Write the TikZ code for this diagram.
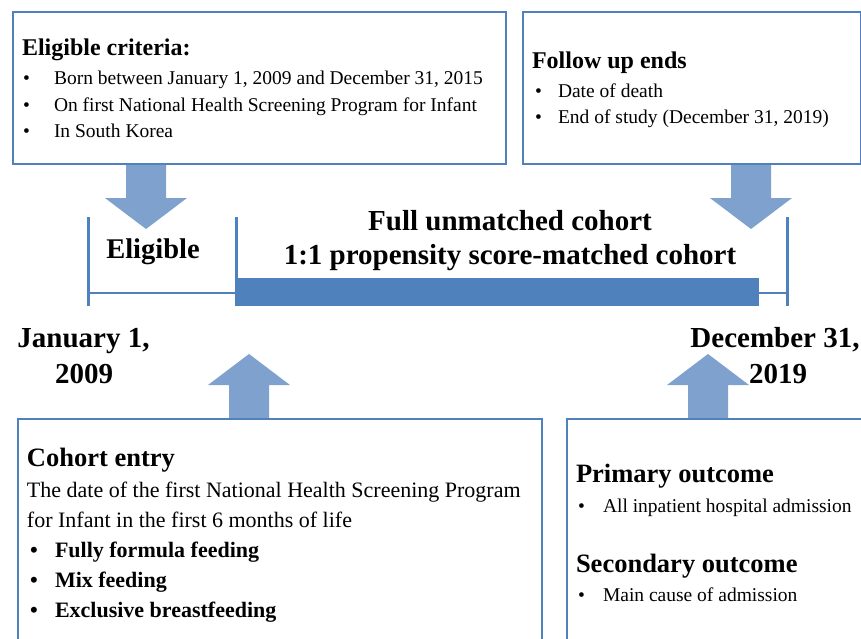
\documentclass[tikz,border=0pt]{standalone}
\usepackage{fontspec}
\setmainfont{Liberation Serif}
\definecolor{boxblue}{RGB}{79,129,189}
\definecolor{arrowblue}{RGB}{126,161,206}
\pgfdeclarelayer{bg}
\pgfsetlayers{bg,main}
\newcommand\fsz[1]{\fontsize{#1}{#1}\selectfont}
\tikzset{
  infobox/.style={draw=boxblue, line width=2pt, anchor=north west, inner sep=0pt, fill=none},
  txt/.style={anchor=base west, inner sep=0pt, outer sep=0pt},
  ctxt/.style={anchor=base, inner sep=0pt, outer sep=0pt},
  head/.style={txt, font=\fsz{24}\bfseries},
  bighead/.style={txt, font=\fsz{26.5}\bfseries},
  item/.style={txt, font=\fsz{19.5}},
  bigitem/.style={txt, font=\fsz{22}},
  bolditem/.style={txt, font=\fsz{22}\bfseries},
  bigbold/.style={ctxt, font=\fsz{29}\bfseries},
  tickline/.style={draw=boxblue, line width=3pt},
  thinline/.style={draw=boxblue, line width=2.5pt},
  downarr/.pic={\fill[arrowblue] (-20,0) -- (20,0) -- (20,33) -- (41,33) -- (0,64) -- (-41,33) -- (-20,33) -- cycle;},
  uparr/.pic={\fill[arrowblue] (-20,0) -- (20,0) -- (20,-33) -- (41,-33) -- (0,-64) -- (-41,-33) -- (-20,-33) -- cycle;}
}
\begin{document}
\begin{tikzpicture}[x=1pt,y=-1pt]
\useasboundingbox (0,0) rectangle (861,638);
\clip (0,0) rectangle (861,638);
% boxes
\node[infobox, minimum width=493pt, minimum height=152pt] (eligbox) at (12,11) {};
\node[infobox, minimum width=338pt, minimum height=152pt] (followbox) at (522,11) {};
\node[infobox, minimum width=524pt, minimum height=260pt] (entrybox) at (17,418) {};
\node[infobox, minimum width=330pt, minimum height=260pt] (outbox) at (566,418) {};
% block arrows behind the boxes
\begin{pgfonlayer}{bg}
\pic at ([xshift=134pt]eligbox.south west) {downarr};
\pic at ([xshift=229pt]followbox.south west) {downarr};
\pic at ([xshift=232pt]entrybox.north west) {uparr};
\pic at ([xshift=142pt]outbox.north west) {uparr};
\end{pgfonlayer}
% eligible criteria text
\node[head] (eh) at (22,55) {Eligible criteria:};
\node[item] (eb1) at (23,84) {•};
\node[item] (et1) at (54,84) {Born between January 1, 2009 and December 31, 2015};
\node[item] (eb2) at (23,111) {•};
\node[item] (et2) at (54,111) {On first National Health Screening Program for Infant};
\node[item] (eb3) at (23,137) {•};
\node[item] (et3) at (54,137) {In South Korea};
% follow up text
\node[head] (fh) at (532,68) {Follow up ends};
\node[item] (fb1) at (535,97) {•};
\node[item] (ft1) at (558,97) {Date of death};
\node[item] (fb2) at (535,123) {•};
\node[item] (ft2) at (558,123) {End of study (December 31, 2019)};
% timeline
\coordinate (tA) at (88,217);
\coordinate (tB) at (236,217);
\coordinate (tC) at (787,217);
\coordinate (tAb) at (88,306);
\coordinate (tBb) at (236,306);
\coordinate (tCb) at (787,306);
\fill[boxblue] (236,278) rectangle (759,306);
\draw[thinline] (88,293) -- (236,293);
\draw[thinline] (759,293) -- (787,293);
\draw[tickline] (tA) -- (tAb);
\draw[tickline] (tB) -- (tBb);
\draw[tickline] (tC) -- (tCb);
\node[ctxt, font=\fsz{28.5}\bfseries] (elig) at (153,258) {Eligible};
\node[bigbold] (full1) at (510,230) {Full unmatched cohort};
\node[bigbold] (full2) at (510,264) {1:1 propensity score-matched cohort};
% dates
\node[bigbold] (jan1) at (83.5,347) {January 1,};
\node[bigbold] (jan2) at (84,383) {2009};
\node[bigbold] (dec1) at (775,347) {December 31,};
\node[bigbold] (dec2) at (778,383) {2019};
% cohort entry text
\node[bighead] (ch) at (27,466) {Cohort entry};
\node[bigitem] (cl1) at (27,497) {The date of the first National Health Screening Program};
\node[bigitem] (cl2) at (27,527) {for Infant in the first 6 months of life};
\node[bolditem] (cb1) at (30,557) {•};
\node[bolditem] (ct1) at (55,557) {Fully formula feeding};
\node[bolditem] (cb2) at (30,587) {•};
\node[bolditem] (ct2) at (55,587) {Mix feeding};
\node[bolditem] (cb3) at (30,617) {•};
\node[bolditem] (ct3) at (55,617) {Exclusive breastfeeding};
% outcomes text
\node[bighead] (ph) at (576,482) {Primary outcome};
\node[item] (pb1) at (578,512) {•};
\node[item] (pt1) at (603,512) {All inpatient hospital admission};
\node[bighead] (sh) at (576,572) {Secondary outcome};
\node[item] (sb1) at (578,601) {•};
\node[item] (st1) at (603,601) {Main cause of admission};
\end{tikzpicture}
\end{document}
